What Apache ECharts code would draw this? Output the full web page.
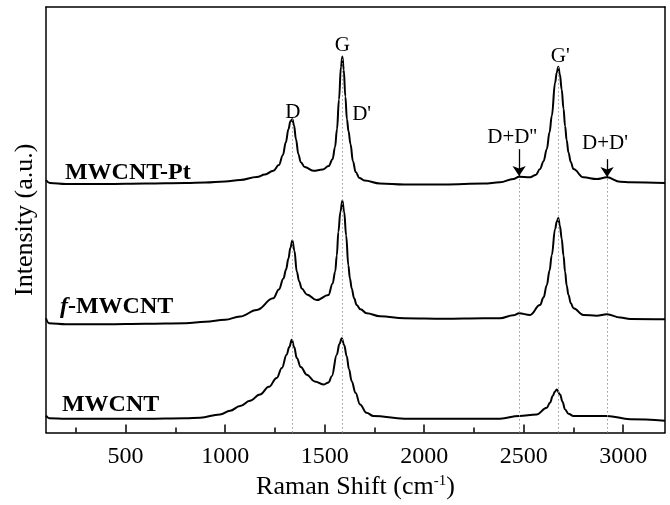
<!DOCTYPE html>
<html><head><meta charset="utf-8">
<script src="https://cdn.jsdelivr.net/npm/echarts@6/dist/echarts.min.js"></script>
<style>html,body{margin:0;padding:0;background:#fff}#c{width:670px;height:505px}</style>
</head><body><div id="c"></div>
<script>
// Raman shift (cm-1) and intensity (a.u.)
const ptShift = [100,120,200,400,600,800,900,1000,1075,1159,1200,1242,1270,1290,1305,1318,1328,1338,1346,1356,1368,1380,1400,1443,1490,1520,1540,1552,1562,1572,1582,1589,1596,1604,1612,1620,1630,1642,1656,1675,1700,1778,1900,2100,2300,2381,2448,2477,2532,2560,2582,2600,2616,2630,2641,2658,2666,2674,2682,2691,2700,2708,2716,2725,2737,2750,2800,2867,2918,2985,3035,3210];
const ptIntensity = [254,251,250,250,250.5,251,251.5,252.5,254,257,259.5,263.3,269,279,292,305,313,315,309,295,280,272,267,263.3,264.5,268,275,287,305,335,368,378.3,365,338,315,303,290,273,262,256,253.5,250.5,249.5,249.5,250.5,251.7,255,257.3,256.7,259,265,273,285,302,318.3,352,362,368,360,345,326,308.3,294,281.7,272,265,256.7,255,256.7,252.3,251.7,251];

const fShift = [100,115,200,400,600,800,900,1000,1075,1159,1242,1270,1293,1306,1318,1328,1338,1348,1360,1372,1385,1410,1460,1519,1540,1553,1561,1569,1579,1589,1598,1608,1619,1627,1636,1648,1661,1680,1711,1778,1900,2100,2300,2381,2448,2477,2532,2582,2600,2616,2630,2641,2658,2666,2674,2682,2691,2700,2708,2716,2725,2737,2750,2800,2867,2918,2985,3035,3210];
const fIntensity = [115,110,109,109,109.5,110,111.5,113.5,116.7,123.3,135,144,155,164,175,186,193.3,183,162,152,145,139,133.3,138.3,150,162,178,202,222,233.3,222,198.3,168.3,155,145,135,128.3,124,120,117,115,114.5,115,115,118,120,118.3,128.3,136,148.3,163,178.3,205,212,215.7,208,195,178,161.7,148,138.3,130,125,118.3,117.5,119,115.7,114.3,114];

const rawShift = [100,115,200,400,600,800,874,974,1025,1075,1125,1175,1220,1259,1285,1309,1322,1335,1347,1360,1380,1410,1450,1494,1520,1536,1561,1574,1586,1598,1611,1622,1636,1655,1678,1710,1745,1900,2100,2300,2381,2477,2565,2616,2632,2646,2656,2666,2683,2695,2708,2725,2750,2918,3035,3210];
const rawIntensity = [17,14.5,14,14,14,14.5,15,18.3,22,26.7,32,38.3,46,55,65,78.3,86,93.3,86,75,66,58.3,51.5,48.3,50.5,56.7,78.3,89,95,88,76.7,64,51.7,40,28.3,20,16.7,14,14,14,14,16.7,18.3,25,30,36.7,41,43.3,38.3,31,23.3,19,16.7,16.7,13.5,12];

const majorTicks = [500,1000,1500,2000,2500,3000];
const minorTicks = [250,750,1250,1750,2250,2750];

const sampleNames = ['MWCNT-Pt','f-MWCNT','MWCNT'];
const sampleLabelShift = [195,170,180];
const sampleLabelIntensity = [261.5,126.5,27.5];

const bandNames = ['D','G',"D'","D+D''","G'","D+D'"];
const bandLabelShift = [1340,1589,1686,2442,2684,2909];
const bandLabelIntensity = [322,389,320,297,378,291];

const guideShift = [1338,1589,2477,2674,2919];
const guideTop = [315,378,257,368,257];

const arrowShift = [2477,2919];
const arrowFrom = [285,275];
const arrowTo = [258,257];

const FONT = 'Liberation Serif';
const zip = (xs, ys) => xs.map((x, i) => [x, ys[i]]);

const sampleRich = {
  b: {fontFamily: FONT, fontWeight: 'bold', fontSize: 24, color: '#000'},
  i: {fontFamily: FONT, fontWeight: 'bold', fontStyle: 'italic', fontSize: 24, color: '#000'}
};
function sampleLabelItem(i) {
  const txt = sampleNames[i].startsWith('f-') ? '{i|f}{b|' + sampleNames[i].slice(1) + '}' : '{b|' + sampleNames[i] + '}';
  return {
    coord: [sampleLabelShift[i], sampleLabelIntensity[i]],
    symbol: 'circle', symbolSize: 0,
    label: {show: true, position: 'inside', align: 'left', verticalAlign: 'middle', formatter: txt, rich: sampleRich}
  };
}

const chart = echarts.init(document.getElementById('c'), null, {renderer: 'canvas'});
const lineStyle = {color: '#000', width: 2};
const frameLine = {show: true, lineStyle: {color: '#000', width: 1.5}};
const SMOOTH = 0.4;

chart.setOption({
  animation: false,
  backgroundColor: '#fff',
  grid: {left: 46, right: 5, top: 7, bottom: 69},
  xAxis: [{
    type: 'value', min: 100, max: 3210, position: 'bottom',
    axisLine: frameLine,
    axisTick: {show: true, inside: true, length: 8, customValues: majorTicks, lineStyle: {color: '#000', width: 1.5}},
    axisLabel: {show: true, customValues: majorTicks, fontSize: 24, fontFamily: FONT, color: '#000', margin: 12,
      formatter: v => String(v)},
    splitLine: {show: false},
    name: 'Raman Shift (cm{sup|-1})',
    nameLocation: 'middle', nameGap: 40,
    nameTextStyle: {fontSize: 26, fontFamily: FONT, color: '#000',
      rich: {sup: {fontSize: 15, fontFamily: FONT, color: '#000', verticalAlign: 'bottom', padding: [0, 0, 12, 0]}}}
  }, {
    type: 'value', min: 100, max: 3210, position: 'bottom',
    axisLine: {show: false},
    axisTick: {show: true, inside: true, length: 5, customValues: minorTicks, lineStyle: {color: '#000', width: 1.5}},
    axisLabel: {show: false},
    splitLine: {show: false}
  }, {
    type: 'value', min: 100, max: 3210, position: 'top',
    axisLine: frameLine, axisTick: {show: false}, axisLabel: {show: false}, splitLine: {show: false}
  }],
  yAxis: [{
    type: 'value', min: 0, max: 428, position: 'left',
    axisLine: frameLine,
    axisTick: {show: false}, axisLabel: {show: false}, splitLine: {show: false},
    name: 'Intensity (a.u.)', nameLocation: 'middle', nameGap: 8,
    nameTextStyle: {fontSize: 26, fontFamily: FONT, color: '#000'}
  }, {
    type: 'value', min: 0, max: 428, position: 'right',
    axisLine: frameLine, axisTick: {show: false}, axisLabel: {show: false}, splitLine: {show: false}
  }],
  series: [
    {
      name: 'MWCNT', type: 'line', data: zip(rawShift, rawIntensity), showSymbol: false,
      smooth: SMOOTH, smoothMonotone: 'x', lineStyle: lineStyle, z: 3,
      markLine: {
        silent: true, symbol: ['none', 'none'], label: {show: false},
        lineStyle: {color: '#999', type: [1.5, 2.5], width: 1},
        data: guideShift.map((x, i) => [{coord: [x, 0]}, {coord: [x, guideTop[i]]}])
      },
      markPoint: {data: [sampleLabelItem(2)]}
    },
    {
      name: 'f-MWCNT', type: 'line', data: zip(fShift, fIntensity), showSymbol: false,
      smooth: SMOOTH, smoothMonotone: 'x', lineStyle: lineStyle, z: 3,
      markPoint: {data: [sampleLabelItem(1)]}
    },
    {
      name: 'MWCNT-Pt', type: 'line', data: zip(ptShift, ptIntensity), showSymbol: false,
      smooth: SMOOTH, smoothMonotone: 'x', lineStyle: lineStyle, z: 3,
      markLine: {
        silent: true, symbol: ['none', 'arrow'], symbolSize: 10, label: {show: false},
        lineStyle: {color: '#000', type: 'solid', width: 1.3},
        data: arrowShift.map((x, i) => [{coord: [x, arrowFrom[i]]}, {coord: [x, arrowTo[i]]}])
      },
      markPoint: {
        symbol: 'circle', symbolSize: 0,
        label: {show: true, position: 'inside', align: 'center', verticalAlign: 'middle', fontSize: 21, fontFamily: FONT, color: '#000'},
        data: bandNames.map((n, i) => ({coord: [bandLabelShift[i], bandLabelIntensity[i]], label: {formatter: n}}))
          .concat([sampleLabelItem(0)])
      }
    }
  ]
});
</script>
</body></html>
